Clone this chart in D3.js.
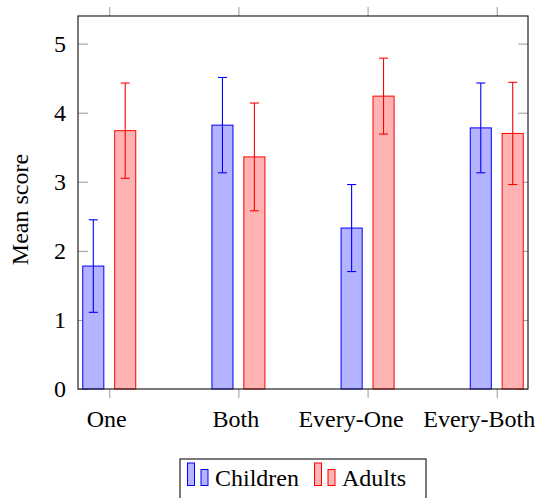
<!DOCTYPE html>
<html>
<head>
<meta charset="utf-8">
<script src="https://cdn.jsdelivr.net/npm/d3@7"></script>
<style>
  body { margin: 0; background: #fff; }
  text { font-family: "Liberation Serif", "Times New Roman", serif; }
</style>
</head>
<body>
<div id="chart"></div>
<script>
var categories  = ["One", "Both", "Every-One", "Every-Both"];
var seriesNames = ["Children", "Adults"];
var children    = [1.78, 3.82, 2.33, 3.78];
var childrenErr = [0.67, 0.69, 0.63, 0.65];
var adults      = [3.74, 3.36, 4.24, 3.70];
var adultsErr   = [0.69, 0.78, 0.55, 0.74];
var yTicks      = [0, 1, 2, 3, 4, 5];

var width = 538, height = 498,
    margins = {top: 16, right: 10, bottom: 109, left: 78};

var colors = {
    Children: {stroke: "#0000ff", fill: "#b3b3ff"},
    Adults:   {stroke: "#ff0000", fill: "#ffb3b3"}
};

// long hyphenated labels sit a bit left of their tick in the original
var labelShift = {"One": -3, "Both": -3, "Every-One": -17, "Every-Both": -18};

/* table built from the arrays */
var rows = [];
categories.forEach(function(c, i){
    rows.push({cat: c, series: "Children", value: children[i], err: childrenErr[i]});
    rows.push({cat: c, series: "Adults", value: adults[i], err: adultsErr[i]});
});

var svg = d3.select("#chart")
    .append("svg")
        .attr("width", width)
        .attr("height", height);

var w = width - margins.left - margins.right,
    h = height - margins.top - margins.bottom;

var main = svg.append("g")
    .attr("transform", "translate(" + margins.left + "," + margins.top + ")");

/* Scales */
var x = d3.scalePoint()
    .domain(categories)
    .range([0, w])
    .padding(0.242);
var xInner = d3.scaleBand()
    .domain(seriesNames)
    .range([-26.5, 26.5])
    .paddingInner(0.34);
var y = d3.scaleLinear()
    .domain([0, 5.4])
    .range([h, 0]);

/* Axes */
var tickColor = "#9a9a9a";
function styleAxis(g){
    g.select(".domain").remove();
    g.selectAll(".tick line").attr("stroke", tickColor);
    g.selectAll("text")
        .attr("fill", "#000")
        .style("font-family", "'Liberation Serif', 'Times New Roman', serif")
        .style("font-size", "24px");
}

main.append("g")
    .attr("transform", "translate(0," + h + ")")
    .call(d3.axisBottom(x).tickSize(9).tickPadding(12))
    .call(styleAxis)
    .selectAll(".tick text")
        .attr("dx", function(d){ return labelShift[d] || 0; });
main.append("g")
    .call(d3.axisTop(x).tickSize(9).tickFormat(""))
    .call(styleAxis);
main.append("g")
    .call(d3.axisLeft(y).tickValues(yTicks).tickSize(-10).tickPadding(12).tickFormat(d3.format("d")))
    .call(styleAxis);
main.append("g")
    .attr("transform", "translate(" + w + ",0)")
    .call(d3.axisRight(y).tickValues(yTicks).tickSize(-10).tickFormat(""))
    .call(styleAxis);

/* Bars */
main.selectAll(".bar")
    .data(rows)
    .enter()
    .append("rect")
        .attr("class", "bar")
        .attr("x", function(d){ return x(d.cat) + xInner(d.series); })
        .attr("y", function(d){ return y(d.value); })
        .attr("width", xInner.bandwidth())
        .attr("height", function(d){ return y(0) - y(d.value); })
        .attr("fill", function(d){ return colors[d.series].fill; })
        .attr("stroke", function(d){ return colors[d.series].stroke; })
        .attr("stroke-width", 1);

/* Error bars */
var errs = main.selectAll(".err")
    .data(rows)
    .enter()
    .append("g")
        .attr("class", "err")
        .attr("stroke", function(d){ return colors[d.series].stroke; })
        .attr("stroke-width", 1.1)
        .attr("transform", function(d){
            return "translate(" + (x(d.cat) + xInner(d.series) + xInner.bandwidth() / 2) + ",0)";
        });
errs.append("line")
    .attr("y1", function(d){ return y(d.value - d.err); })
    .attr("y2", function(d){ return y(d.value + d.err); });
errs.append("line")
    .attr("x1", -4.5).attr("x2", 4.5)
    .attr("y1", function(d){ return y(d.value + d.err); })
    .attr("y2", function(d){ return y(d.value + d.err); });
errs.append("line")
    .attr("x1", -4.5).attr("x2", 4.5)
    .attr("y1", function(d){ return y(d.value - d.err); })
    .attr("y2", function(d){ return y(d.value - d.err); });

/* Frame */
main.append("rect")
    .attr("width", w)
    .attr("height", h)
    .attr("fill", "none")
    .attr("stroke", "#222")
    .attr("stroke-width", 1.2);

/* Y label */
svg.append("text")
    .attr("transform", "translate(28," + (margins.top + h / 2 + 7) + ") rotate(-90)")
    .attr("text-anchor", "middle")
    .style("font-size", "24px")
    .text("Mean score");

/* Legend */
var legend = svg.append("g")
    .attr("transform", "translate(180,459)");
legend.append("rect")
    .attr("width", 246)
    .attr("height", 50)
    .attr("fill", "#fff")
    .attr("stroke", "#222")
    .attr("stroke-width", 1.2);

var legendX = [7, 134];
seriesNames.forEach(function(s, i){
    var g = legend.append("g")
        .attr("transform", "translate(" + legendX[i] + ",0)");
    g.append("rect")
        .attr("x", 0.5).attr("y", 4)
        .attr("width", 7).attr("height", 22.5)
        .attr("fill", colors[s].fill)
        .attr("stroke", colors[s].stroke);
    g.append("rect")
        .attr("x", 14).attr("y", 10.5)
        .attr("width", 7).attr("height", 16)
        .attr("fill", colors[s].fill)
        .attr("stroke", colors[s].stroke);
    g.append("text")
        .attr("x", 28)
        .attr("y", 26.5)
        .style("font-size", "24px")
        .text(s);
});
</script>
</body>
</html>
